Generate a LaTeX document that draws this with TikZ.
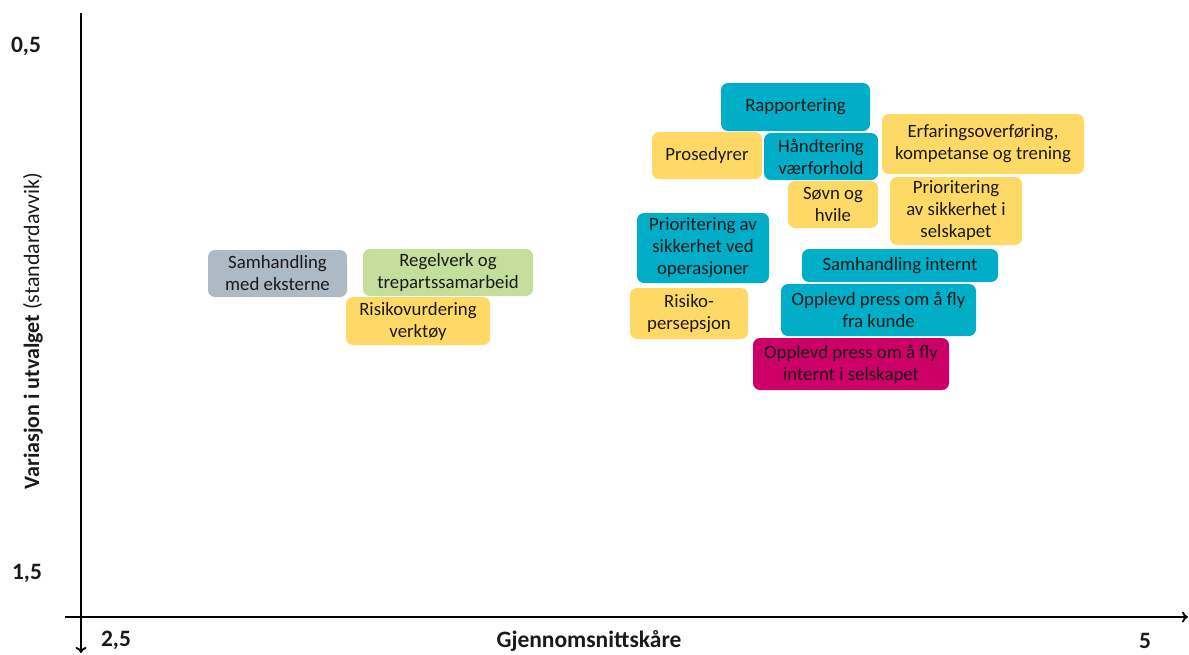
\documentclass[tikz,border=0pt]{standalone}
\usepackage{fontspec}
\setmainfont{Carlito}
\usetikzlibrary{arrows.meta}
\definecolor{tealbox}{HTML}{00AEC7}
\definecolor{goldbox}{HTML}{FFD966}
\definecolor{greybox}{HTML}{ADB9C3}
\definecolor{greenbox}{HTML}{C5DE9C}
\definecolor{redbox}{HTML}{CC0066}
\definecolor{ink}{HTML}{1A1A1A}
\tikzset{
  cat/.style={rounded corners=7pt, draw=none, align=center, inner sep=0pt,
    font=\fontsize{18.8}{22}\selectfont, text=ink},
  axisline/.style={line width=1.8pt, -{To[length=6pt,width=11pt]}},
  ticklabel/.style={font=\bfseries\fontsize{23.5}{26}\selectfont, text=ink}
}
% place a box by its corners: #1 fill, #2 name, (x1,y1) top left, (x2,y2) bottom right, text
\newcommand\catbox[7]{%
  \pgfmathsetmacro\bw{#5-#3}\pgfmathsetmacro\bh{#6-#4}%
  \node[cat, fill=#1, minimum width=\bw pt, minimum height=\bh pt] (#2) at ({(#3+#5)/2},{(#4+#6)/2}) {#7};}
\begin{document}
\begin{tikzpicture}[x=1pt,y=-1pt]
\useasboundingbox (0,0) rectangle (1189,654);
% axes
\coordinate (ytop) at (81,13);
\coordinate (ybot) at (81,653);
\coordinate (xleft) at (65,617);
\coordinate (xright) at (1188,617);
\draw[axisline] (ytop) -- (ybot);
\draw[axisline] (xleft) -- (xright);
\node[ticklabel] (y05) at (26,46) {0,5};
\node[ticklabel] (y15) at (27,573) {1,5};
\node[ticklabel] (x25) at (116,640) {2,5};
\node[ticklabel] (x5) at (1145,641) {5};
\node[ticklabel] (xlab) at (589,641) {Gjennomsnittskåre};
\node[font=\fontsize{22}{26}\selectfont, text=ink, rotate=90] (ylab) at (33,331)
  {\textbf{Variasjon i utvalget} (standardavvik)};
% categories
\catbox{greybox}{eksterne}{208}{250}{347}{297}{Samhandling\\med eksterne}
\catbox{greenbox}{regelverk}{363}{249}{533}{296}{Regelverk og\\trepartssamarbeid}
\catbox{goldbox}{risikoverktoy}{346}{297}{490}{345}{Risikovurdering\\verktøy}
\catbox{tealbox}{rapportering}{721}{83}{870}{131}{Rapportering}
\catbox{goldbox}{prosedyrer}{652}{132}{762}{179}{Prosedyrer}
\catbox{tealbox}{vaer}{764}{133}{878}{180}{Håndtering\\værforhold}
\catbox{goldbox}{erfaring}{882}{114}{1084}{174}{Erfaringsoverføring,\\kompetanse og trening}
\catbox{goldbox}{sovn}{788}{181}{878}{228}{Søvn og\\hvile}
\catbox{goldbox}{prisels}{890}{177}{1022}{245}{Prioritering\\av sikkerhet i\\selskapet}
\catbox{tealbox}{priops}{637}{213}{769}{283}{Prioritering av\\sikkerhet ved\\operasjoner}
\catbox{tealbox}{internt}{802}{249}{998}{282}{Samhandling internt}
\catbox{goldbox}{persepsjon}{630}{288}{748}{339}{Risiko-\\persepsjon}
\catbox{tealbox}{kunde}{781}{284}{976}{336}{Opplevd press om å fly\\fra kunde}
\catbox{redbox}{selskap}{753}{338}{949}{390}{Opplevd press om å fly\\internt i selskapet}
\end{tikzpicture}
\end{document}
